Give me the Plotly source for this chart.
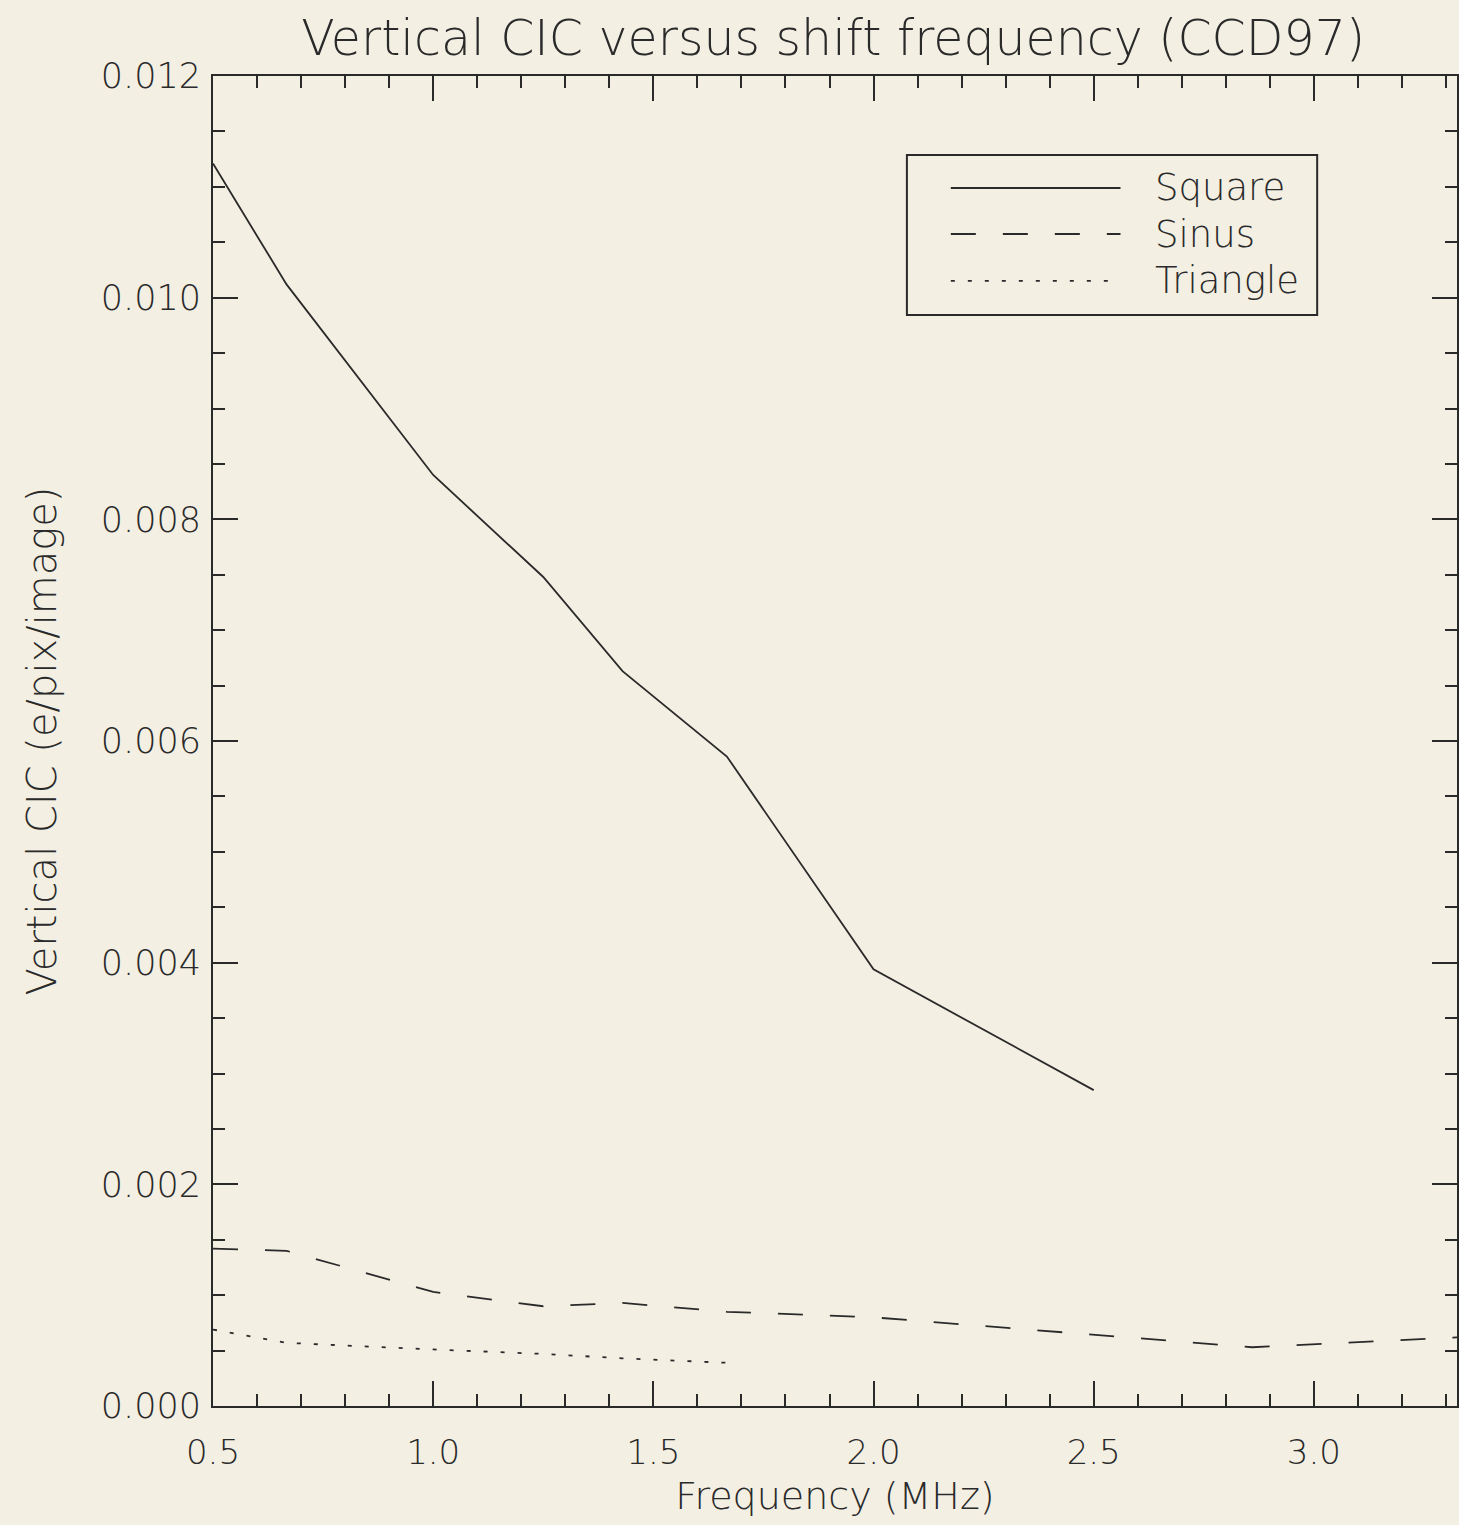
import plotly.graph_objects as go

# Data
freq_square = [0.5, 0.667, 1.0, 1.25, 1.43, 1.667, 2.0, 2.5]
cic_square = [0.01121, 0.01012, 0.00840, 0.00748, 0.00663, 0.00586, 0.00394, 0.00285]

freq_sinus = [0.5, 0.667, 1.0, 1.25, 1.43, 1.667, 2.0, 2.5, 2.86, 3.33]
cic_sinus = [0.00142, 0.00140, 0.00103, 0.00090, 0.00093, 0.00085, 0.00080, 0.00064, 0.00053, 0.00062]

freq_triangle = [0.5, 0.667, 1.0, 1.25, 1.43, 1.667]
cic_triangle = [0.00069, 0.00057, 0.00051, 0.00047, 0.00043, 0.00039]

series_names = ["Square", "Sinus", "Triangle"]
series_dash = ["solid", "25px,27px", "4px,13px"]

x_ticks = [0.5, 1.0, 1.5, 2.0, 2.5, 3.0]
x_ticklabels = ["0.5", "1.0", "1.5", "2.0", "2.5", "3.0"]
y_ticks = [0.000, 0.002, 0.004, 0.006, 0.008, 0.010, 0.012]
y_ticklabels = ["0.000", "0.002", "0.004", "0.006", "0.008", "0.010", "0.012"]

FONT = "'DejaVu Sans', 'Noto Sans', sans-serif"
INK = "#2a2a2a"
BG = "#f3efe3"

fig = go.Figure()
for xs, ys, name, dash in zip([freq_square, freq_sinus, freq_triangle],
                              [cic_square, cic_sinus, cic_triangle],
                              series_names, series_dash):
    fig.add_trace(go.Scatter(x=xs, y=ys, mode="lines", name=name, showlegend=False,
                             line=dict(color=INK, width=1.8, dash=dash)))

# Legend drawn as a framed key in paper coordinates
fig.add_shape(type="rect", xref="paper", yref="paper",
              x0=0.5578, x1=0.8876, y0=0.8203, y1=0.9406,
              line=dict(color=INK, width=2), fillcolor="rgba(0,0,0,0)")
legend_y = [0.9158, 0.8812, 0.8459]
for name, dash, ly in zip(series_names, series_dash, legend_y):
    fig.add_shape(type="line", xref="paper", yref="paper",
                  x0=0.5931, x1=0.7295, y0=ly, y1=ly,
                  line=dict(color=INK, width=1.8, dash=dash))
    fig.add_annotation(xref="paper", yref="paper", x=0.7560, y=ly, xanchor="left",
                       yanchor="middle", text=name, showarrow=False,
                       font=dict(size=37, family=FONT, color=INK, weight=200))

fig.update_layout(
    width=1459, height=1525,
    margin=dict(l=213, r=0, t=76, b=119),
    paper_bgcolor=BG, plot_bgcolor=BG,
    font=dict(family=FONT, color=INK, size=30, weight=200),
    title=dict(text="Vertical CIC versus shift frequency (CCD97)", x=0.571, xanchor="center",
               y=0.975, yanchor="middle", font=dict(size=49, family=FONT, color=INK, weight=200)),
    showlegend=False,
)

fig.update_xaxes(
    range=[0.5, 3.325], showgrid=False, zeroline=False,
    showline=True, linecolor=INK, linewidth=2, mirror="ticks",
    ticks="inside", ticklen=25, tickwidth=2, tickcolor=INK,
    tickvals=x_ticks, ticktext=x_ticklabels,
    ticklabelstandoff=15, tickfont=dict(size=34, weight=200),
    minor=dict(ticks="inside", ticklen=12, tickwidth=2, tickcolor=INK, dtick=0.1, tick0=0.5),
    title=dict(text="Frequency (MHz)", font=dict(size=38, weight=200), standoff=12),
)
fig.update_yaxes(
    range=[0, 0.012], showgrid=False, zeroline=False,
    showline=True, linecolor=INK, linewidth=2, mirror="ticks",
    ticks="inside", ticklen=25, tickwidth=2, tickcolor=INK,
    tickvals=y_ticks, ticktext=y_ticklabels,
    ticklabelstandoff=3, tickfont=dict(size=35, weight=200),
    minor=dict(ticks="inside", ticklen=12, tickwidth=2, tickcolor=INK, dtick=0.0005, tick0=0),
    title=dict(text="Vertical CIC (e/pix/image)", font=dict(size=40, weight=200), standoff=32),
)

fig.write_html("out.html")
